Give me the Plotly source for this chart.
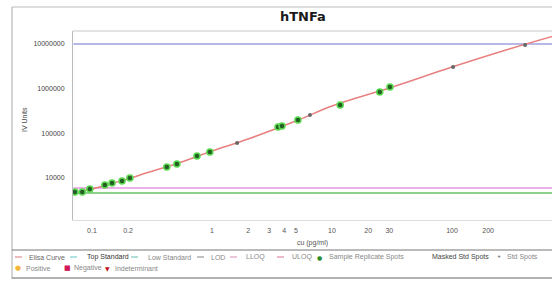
import plotly.graph_objects as go

# ---- data ----
curve_conc = [0.07, 0.1, 0.15, 0.2, 0.3, 0.5, 1, 2, 5, 10, 30, 100, 300, 700]
curve_signal = [4750, 5680, 7730, 9500, 13600, 20600, 40200, 74600, 188000,
                408000, 1030000, 3040000, 7700000, 15000000]

sample_conc = [0.072, 0.083, 0.096, 0.128, 0.147, 0.178, 0.207, 0.42, 0.51,
               0.75, 0.96, 3.55, 3.83, 5.2, 11.7, 25, 30.4]
sample_signal = [4860, 4860, 5680, 6970, 7730, 8580, 10000, 17600, 20600,
                 31000, 38000, 138000, 146000, 198000, 430000, 840000, 1087000]

std_conc = [1.62, 6.55, 102, 406]
std_signal = [60700, 258000, 3040000, 9440000]

top_standard = 10000000
lod_value = 5970
low_standard = 4620
line_span = [0.07, 700]

x_tick_vals = [0.1, 0.2, 1, 2, 3, 4, 5, 10, 20, 30, 100, 200]
x_tick_text = ["0.1", "0.2", "1", "2", "3", "4", "5", "10", "20", "30", "100", "200"]
y_tick_vals = [10000, 100000, 1000000, 10000000]
y_tick_text = ["10000", "100000", "1000000", "10000000"]

legend_row1 = ["Elisa Curve", "Top Standard", "Low Standard", "LOD", "LLOQ", "ULOQ",
               "Sample Replicate Spots", "Masked Std Spots", "Std Spots"]
legend_row2 = ["Positive", "Negative", "Indeterminant"]

FONT = "Liberation Sans"
W, H = 552, 281
L, R, T, B = 73, 552, 31, 220

fig = go.Figure()

fig.add_trace(go.Scatter(x=line_span, y=[top_standard] * 2, mode="lines",
                         line=dict(color="#a0a0e0", width=1.5), hoverinfo="skip"))
fig.add_trace(go.Scatter(x=line_span, y=[lod_value] * 2, mode="lines",
                         line=dict(color="#eeb0ea", width=2), hoverinfo="skip"))
fig.add_trace(go.Scatter(x=line_span, y=[low_standard] * 2, mode="lines",
                         line=dict(color="#66c266", width=1.5), hoverinfo="skip"))
fig.add_trace(go.Scatter(x=curve_conc, y=curve_signal, mode="lines",
                         line=dict(color="#e88080", width=1.5, shape="spline"),
                         hoverinfo="skip"))
fig.add_trace(go.Scatter(x=sample_conc, y=sample_signal, mode="markers",
                         marker=dict(size=6, color="#245e24",
                                     line=dict(color="#5ad84f", width=1.5))))
fig.add_trace(go.Scatter(x=std_conc, y=std_signal, mode="markers",
                         marker=dict(size=4, color="#666666")))

def px(xp):
    return (xp - L) / (R - L)

def py(yp):
    return (B - yp) / (B - T)

shapes = []
annots = []
# outer frame
shapes.append(dict(type="line", xref="paper", yref="paper", x0=px(12), x1=px(552),
                   y0=py(7), y1=py(7), line=dict(color="#bbbbbb", width=1)))
shapes.append(dict(type="line", xref="paper", yref="paper", x0=px(12), x1=px(12),
                   y0=py(7), y1=py(279), line=dict(color="#aaaaaa", width=1)))
# plot top border
shapes.append(dict(type="line", xref="paper", yref="paper", x0=0, x1=1,
                   y0=1, y1=1, line=dict(color="#c8c8c8", width=1)))
# legend box
shapes.append(dict(type="line", xref="paper", yref="paper", x0=px(12), x1=px(552),
                   y0=py(250), y1=py(250), line=dict(color="#777777", width=1)))
shapes.append(dict(type="line", xref="paper", yref="paper", x0=px(12), x1=px(552),
                   y0=py(278), y1=py(278), line=dict(color="#999999", width=1.5)))

def legend_line(x0, yrow, color):
    shapes.append(dict(type="line", xref="paper", yref="paper", x0=px(x0), x1=px(x0 + 7),
                       y0=py(yrow), y1=py(yrow), line=dict(color=color, width=1.2)))

def legend_text(x0, yrow, text, color="#666666"):
    annots.append(dict(xref="paper", yref="paper", x=px(x0), y=py(yrow), text=text,
                       showarrow=False, xanchor="left", yanchor="middle",
                       font=dict(family=FONT, size=7, color=color)))

def legend_glyph(xc, yrow, glyph, color, size=7):
    annots.append(dict(xref="paper", yref="paper", x=px(xc), y=py(yrow), text=glyph,
                       showarrow=False, xanchor="center", yanchor="middle",
                       font=dict(family="DejaVu Sans", size=size, color=color)))

r1, r2 = 257, 268
legend_line(15, r1, "#e58a8a"); legend_text(27, r1, legend_row1[0])
legend_line(70, r1, "#7fd0d0"); legend_text(85, r1, legend_row1[1], "#333333")
legend_line(131, r1, "#7fc8b8"); legend_text(146, r1, legend_row1[2], "#888888")
legend_line(197, r1, "#999999"); legend_text(209, r1, legend_row1[3], "#888888")
legend_line(230, r1, "#e0a0c0"); legend_text(244, r1, legend_row1[4], "#888888")
legend_line(277, r1, "#e08aa0"); legend_text(290, r1, legend_row1[5], "#888888")
legend_glyph(319, r1, "●", "#2e8b2e", 6); legend_text(327, r1, legend_row1[6], "#888888")
legend_text(430, r1, legend_row1[7], "#444444")
legend_glyph(499, r1, "•", "#777777", 7); legend_text(505, r1, legend_row1[8], "#888888")
legend_glyph(18, r2, "●", "#f5b73b", 7); legend_text(24, r2, legend_row2[0], "#888888")
legend_glyph(67, r2, "■", "#d01858", 7); legend_text(72, r2, legend_row2[1], "#888888")
legend_glyph(107, r2, "▼", "#c01020", 6); legend_text(113, r2, legend_row2[2], "#888888")

# title
annots.append(dict(xref="paper", yref="paper", x=px(303), y=py(16), text="<b>hTNFa</b>",
                   showarrow=False, xanchor="center", yanchor="middle",
                   font=dict(family="DejaVu Sans", size=13, color="#1a1a1a")))
# y axis title
annots.append(dict(xref="paper", yref="paper", x=px(24), y=py(120), text="IV Units",
                   showarrow=False, xanchor="center", yanchor="middle", textangle=-90,
                   font=dict(family=FONT, size=7, color="#444444")))

fig.update_layout(
    width=W, height=H,
    margin=dict(l=L, r=W - R, t=T, b=H - B, pad=0, autoexpand=False),
    paper_bgcolor="white", plot_bgcolor="white",
    showlegend=False,
    shapes=shapes, annotations=annots,
    font=dict(family=FONT, size=7, color="#444444"),
)
fig.update_xaxes(type="log", range=[-1.158, 2.833], tickvals=x_tick_vals,
                 ticktext=x_tick_text, showgrid=False, zeroline=False,
                 showline=True, linecolor="#dddddd", linewidth=1, automargin=False,
                 ticks="outside", ticklen=4, tickcolor="rgba(0,0,0,0)",
                 tickfont=dict(size=7, color="#555555"),
                 title=dict(text="cu (pg/ml)", font=dict(size=7, color="#555555"),
                            standoff=6))
fig.update_yaxes(type="log", range=[3.06, 7.289], tickvals=y_tick_vals,
                 ticktext=y_tick_text, showgrid=False, zeroline=False,
                 showline=True, linecolor="#bbbbbb", linewidth=1, automargin=False,
                 ticks="", ticklabelstandoff=6, tickfont=dict(size=7, color="#444444"))

fig.write_html("out.html", config={"displayModeBar": False},
               post_script="document.body.style.margin='0';document.body.style.overflow='hidden';")
